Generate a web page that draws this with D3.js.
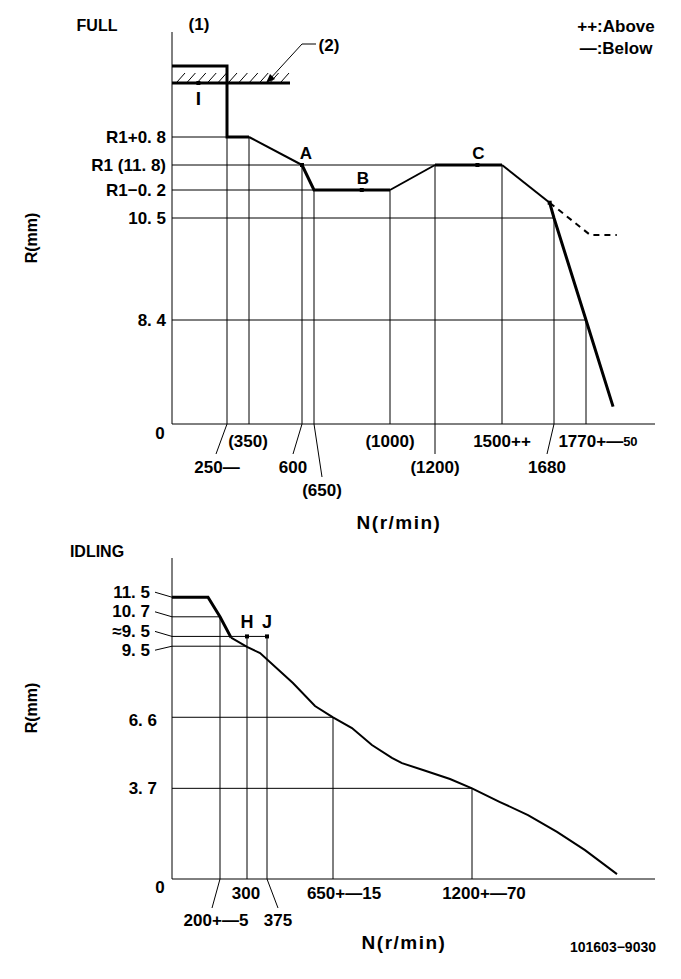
<!DOCTYPE html>
<html><head><meta charset="utf-8">
<script src="https://cdn.jsdelivr.net/npm/d3@7"></script>
<style>
body{margin:0;background:#fff}
svg{display:block}
text{font-family:"Liberation Sans",Arial,sans-serif;font-weight:bold;fill:#000;font-size:17px}
</style>
</head><body><svg id="c" width="681" height="979"></svg>
<script>
// ---------------- DATA ----------------
// FULL chart (R in mm vs N in r/min); schematic (non-uniform) axes
const fullYTicks  = [0, 8.4, 10.5, 11.6, 11.8, 12.6];
const fullYLabels = ["0", "8. 4", "10. 5", "R1\u22120. 2", "R1 (11. 8)", "R1+0. 8"];
const fullHGridTo = [null, 1770, 1680, 650, 1200, 350];   // N where each horizontal ref line ends
const fullStopR = 13.4;     // stopper line (2)
const fullRackR = 14.0;     // rack limit box (1)
const fullXTicks  = [250, 350, 600, 650, 1000, 1200, 1500, 1680, 1770];
const fullXLabels = ["250\u2014", "(350)", "600", "(650)", "(1000)", "(1200)", "1500++", "1680", "1770+\u221250"];
const fullVGridFrom = [12.6, 12.6, 11.8, 11.6, 11.6, 11.8, 11.8, 10.5, 8.4];   // R where each vertical ref line starts
const fullThick = [
  [[0, 14.0], [250, 14.0], [250, 12.6], [350, 12.6]],
  [[600, 11.8], [650, 11.6], [1000, 11.6]],
  [[1200, 11.8], [1500, 11.8]],
  [[1665, 11.1], [1680, 10.5], [1770, 8.4], [1821, 1.4]]
];
const fullThin = [
  [[350, 12.6], [600, 11.8]],
  [[1000, 11.6], [1200, 11.8]],
  [[1500, 11.8], [1665, 11.1]]
];
const fullDashed = [[1665, 11.1], [1778, 10.15], [1828, 10.15]];
const fullPoints = [{n: 600, r: 11.8, label: "A"}, {n: 870, r: 11.6, label: "B"}, {n: 1390, r: 11.8, label: "C"}];
const fullMarkI = {n: 120, r: 13.4, label: "I"};

// IDLING chart
const idleYTicks  = [0, 3.7, 6.6, 9.5, 9.9, 10.7, 11.5];
const idleYLabels = ["0", "3. 7", "6. 6", "9. 5", "\u22489. 5", "10. 7", "11. 5"];
const idleHGridTo = [null, 1200, 650, 300, 375, 200, null];
const idleXTicks  = [200, 300, 375, 650, 1200];
const idleXLabels = ["200+\u22125", "300", "375", "650+\u221215", "1200+\u221270"];
const idleVGridFrom = [10.7, 9.9, 9.9, 6.6, 3.7];
const idleThick = [[0, 11.5], [150, 11.5], [200, 10.7], [241, 9.85]];
const idleThin = [[241, 9.85], [300, 9.47], [349, 9.22], [483, 8.0], [575, 7.06], [650, 6.6], [725, 6.16],
  [804, 5.47], [883, 4.94], [923, 4.73], [1006, 4.45], [1113, 4.08], [1200, 3.7], [1312, 3.14],
  [1424, 2.61], [1540, 1.92], [1652, 1.18], [1780, 0.2]];
const idlePoints = [{n: 300, r: 9.9, label: "H"}, {n: 375, r: 9.9, label: "J"}];

// ---------------- LAYOUT ----------------
const svg = d3.select("#c");
const fx = d3.scaleLinear().domain([0, 250, 350, 600, 650, 1000, 1200, 1500, 1680, 1770, 1900])
  .range([172, 227, 249, 302, 314, 390, 435, 502, 554, 586, 655]);
const fy = d3.scaleLinear().domain([0, 8.4, 10.5, 11.6, 11.8, 12.6, 13.4, 14.0, 15.0])
  .range([424, 320, 218, 190, 165, 137, 83, 66, 32]);
const ix = d3.scaleLinear().domain([0, 200, 300, 375, 650, 1200, 1932])
  .range([172, 220, 247, 267, 333, 472, 655]);
const iy = d3.scaleLinear().domain([0, 13.1]).range([879, 558]);

const fullTickLayout = {row: [2,1,2,3,1,2,1,2,1], dx: [-10,-1,-9,8,0,0,0,-7,12], leader: [-11,null,-9,8,null,0,null,-7,null]};
const fullRowY = [441, 467, 490];
const idleTickLayout = {row: [2,1,2,1,1], dx: [-4,-1,11,11,12], leader: [-8,null,11,null,null]};
const idleRowY = [893, 920];

function text(x, y, s, opts = {}) {
  const t = svg.append("text").attr("x", x).attr("y", y)
    .attr("text-anchor", opts.anchor || "middle")
    .attr("dominant-baseline", "central");
  if (opts.size) t.style("font-size", opts.size + "px");
  if (opts.ls) t.style("letter-spacing", opts.ls + "px");
  if (opts.rotate) t.attr("transform", `rotate(${opts.rotate},${x},${y})`);
  const m = s.match(/^(.*?)\+\u2212(.*)$/);
  if (m) {
    t.append("tspan").text(m[1] + "+\u2014");
    t.append("tspan").text(m[2]).style("font-size", (opts.tolSize || 17) + "px");
  } else {
    t.text(s);
  }
  return t;
}
function line(pts, sx, sy, w, dash) {
  const p = svg.append("path").attr("d", d3.line().x(d => sx(d[0])).y(d => sy(d[1]))(pts))
    .attr("fill", "none").attr("stroke", "#000").attr("stroke-width", w)
    .attr("stroke-linejoin", "miter").attr("stroke-linecap", "butt");
  if (dash) p.attr("stroke-dasharray", dash);
  return p;
}
function seg(x1, y1, x2, y2, w = 1) {
  svg.append("line").attr("x1", x1).attr("y1", y1).attr("x2", x2).attr("y2", y2)
    .attr("stroke", "#000").attr("stroke-width", w);
}
function dot(x, y) {
  svg.append("rect").attr("x", x - 2).attr("y", y - 2).attr("width", 4).attr("height", 4).attr("fill", "#000");
}

// ================= FULL =================
text(97, 25, "FULL", {size: 16});
text(199, 24, "(1)");
text(616, 26, "++:Above");
text(616, 48, "\u2014:Below");

seg(fx(0), fy(15.0), fx(0), fy(0));
seg(fx(0), fy(0), fx(1900), fy(0));

fullYTicks.forEach((v, i) => {
  if (fullHGridTo[i] != null) seg(fx(0), fy(v), fx(fullHGridTo[i]), fy(v));
  if (v === 0) text(160, fy(0) + 9, fullYLabels[i]);
  else text(166, fy(v), fullYLabels[i], {anchor: "end"});
});
fullXTicks.forEach((v, i) => {
  seg(fx(v), fy(fullVGridFrom[i]), fx(v), fy(0));
  const row = fullTickLayout.row[i], ty = fullRowY[row - 1];
  const ld = fullTickLayout.leader[i];
  if (ld != null) seg(fx(v), fy(0), fx(v) + ld, ty - 13);
  text(fx(v) + fullTickLayout.dx[i], ty, fullXLabels[i], {tolSize: 13});
});

// stopper line (2) with hatching
seg(fx(0), fy(fullStopR), 290, fy(fullStopR), 3);
d3.range(177, 288, 10.4).forEach(x => seg(x, fy(fullStopR) - 1, x + 8, fy(fullStopR) - 10, 1));
seg(316, 44, 302, 44);
seg(302, 44, 269, 80);
svg.append("path").attr("d", "M266,83 L270,74 L275,79 Z").attr("fill", "#000");
text(329, 45, "(2)");
dot(fx(fullMarkI.n), fy(fullMarkI.r));
text(fx(fullMarkI.n), 98, fullMarkI.label, {size: 19});

fullThick.forEach(s => line(s, fx, fy, 3));
fullThin.forEach(s => line(s, fx, fy, 2));
line(fullDashed, fx, fy, 2, "6,5");
dot(fx(fullDashed[0][0]), fy(fullDashed[0][1]));
fullPoints.forEach(p => {
  dot(fx(p.n), fy(p.r));
  text(fx(p.n) + (p.label === "A" ? 4 : 1), fy(p.r) - 12, p.label);
});

text(31, 238, "R(mm)", {size: 16, rotate: -90});
text(399, 522, "N(r/min)", {size: 19, ls: 1.5});

// ================= IDLING =================
text(97, 551, "IDLING", {size: 16});
seg(ix(0), iy(13.1), ix(0), iy(0));
seg(ix(0), iy(0), ix(1932), iy(0));

const idleLabelDy = [8, 0, 3, 4, -5, -5, -5];
idleYTicks.forEach((v, i) => {
  if (idleHGridTo[i] != null) seg(ix(0), iy(v), ix(idleHGridTo[i]), iy(v));
  const ly = iy(v) + idleLabelDy[i];
  if (v === 0) text(160, iy(0) + 8, idleYLabels[i]);
  else if (i >= 3) {
    text(150, ly, idleYLabels[i], {anchor: "end"});
    seg(155, ly, ix(0), iy(v));
  } else text(157, ly, idleYLabels[i], {anchor: "end"});
});
idleXTicks.forEach((v, i) => {
  seg(ix(v), iy(idleVGridFrom[i]), ix(v), iy(0));
  const row = idleTickLayout.row[i], ty = idleRowY[row - 1];
  const ld = idleTickLayout.leader[i];
  if (ld != null) seg(ix(v), iy(0), ix(v) + ld, ty - 12);
  text(ix(v) + idleTickLayout.dx[i], ty, idleXLabels[i]);
});

line(idleThick, ix, iy, 3);
line(idleThin, ix, iy, 2);
idlePoints.forEach(p => {
  dot(ix(p.n), iy(p.r));
  text(ix(p.n), iy(p.r) - 14, p.label, {size: 18});
});

text(31, 708, "R(mm)", {size: 16, rotate: -90});
text(404, 942, "N(r/min)", {size: 19, ls: 1.5});
text(613, 947, "101603\u22129030", {size: 14});
</script>
</body></html>
